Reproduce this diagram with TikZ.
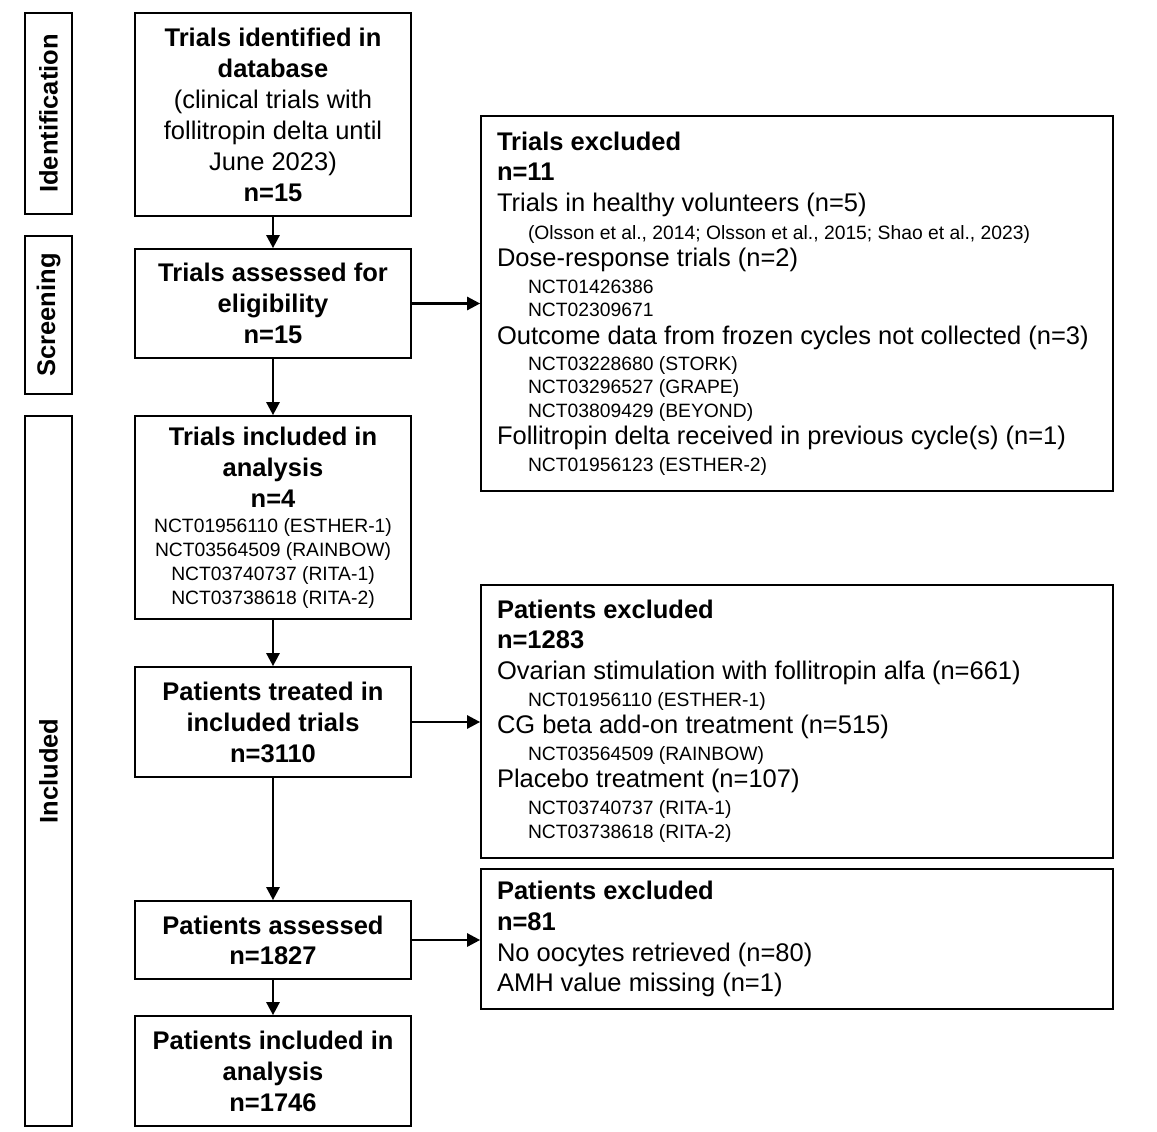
\documentclass[tikz,border=0pt]{standalone}
\usepackage{fontspec}
\setmainfont{Liberation Sans}
\usetikzlibrary{arrows.meta}
\setlength\parindent{0pt}
\newcommand\lnB[2]{{\fontsize{25.5}{#1}\selectfont\bfseries\spaceskip=0pt\xspaceskip=0pt #2\par}}
\newcommand\lnM[2]{{\fontsize{25.5}{#1}\selectfont\spaceskip=0pt\xspaceskip=0pt #2\par}}
\newcommand\lnS[2]{{\fontsize{19.3}{#1}\selectfont\spaceskip=0pt\xspaceskip=0pt #2\par}}
\newcommand\lnI[2]{{\fontsize{19.3}{#1}\selectfont\spaceskip=0pt\xspaceskip=0pt\leftskip=31pt #2\par}}
\tikzset{
  lbox/.style={draw, line width=1.7pt, minimum width=276pt, text width=270pt, align=flush center, inner sep=0pt},
  rbox/.style={draw, line width=1.7pt, minimum width=632pt, text width=600pt, align=flush left, inner sep=0pt},
  sbox/.style={draw, line width=1.7pt, rotate=90, minimum height=47pt, inner sep=0pt, font=\fontsize{25.5}{31}\selectfont\bfseries},
  flow/.style={line width=2.6pt, -{Triangle[length=13pt,width=13pt]}}
}
\begin{document}
\begin{tikzpicture}[x=1pt,y=-1pt]
\useasboundingbox (0,0) rectangle (1157,1132);
% stage labels
\node[sbox, minimum width=201pt] (sid) at (48.5,113.5) {Identification};
\node[sbox, minimum width=158pt] (sscr) at (48.5,315) {Screening};
\node[sbox, minimum width=710pt] (sinc) at (48.5,771) {Included};
% left column
\node[lbox, minimum height=203pt] (b1) at (273,114.5) {%
\lnB{31}{Trials identified in}\lnB{31}{database}\lnM{31}{(clinical trials with}\lnM{31}{follitropin delta until}\lnM{31}{June 2023)}\lnB{31}{n=15}};
\node[lbox, minimum height=109pt] (b2) at (273,303.5) {%
\lnB{31}{Trials assessed for}\lnB{31}{eligibility}\lnB{31}{n=15}};
\node[lbox, minimum height=203pt] (b3) at (273,517.5) {%
\lnB{31}{Trials included in}\lnB{31}{analysis}\lnB{31}{n=4}\lnS{25}{NCT01956110 (ESTHER-1)}\lnS{24}{NCT03564509 (RAINBOW)}\lnS{24}{NCT03740737 (RITA-1)}\lnS{24}{NCT03738618 (RITA-2)}};
\node[lbox, minimum height=110pt] (b4) at (273,722) {%
\lnB{31}{Patients treated in}\lnB{31}{included trials}\lnB{31}{n=3110}};
\node[lbox, minimum height=78pt] (b5) at (273,940) {%
\lnB{30}{Patients assessed}\lnB{30}{n=1827}};
\node[lbox, minimum height=110pt] (b6) at (273,1071) {%
\lnB{31}{Patients included in}\lnB{31}{analysis}\lnB{31}{n=1746}};
% right column
\node[rbox, minimum height=375pt] (e1) at (797,303.5) {%
\lnB{30}{Trials excluded}\lnB{30}{n=11}%
\lnM{31}{Trials in healthy volunteers (n=5)}%
\lnI{28}{(Olsson et al., 2014; Olsson et al., 2015; Shao et al., 2023)}%
\lnM{27}{Dose-response trials (n=2)}%
\lnI{27}{NCT01426386}\lnI{23}{NCT02309671}%
\lnM{28}{Outcome data from frozen cycles not collected (n=3)}%
\lnI{26}{NCT03228680 (STORK)}\lnI{23}{NCT03296527 (GRAPE)}\lnI{24}{NCT03809429 (BEYOND)}%
\lnM{27}{Follitropin delta received in previous cycle(s) (n=1)}%
\lnI{27}{NCT01956123 (ESTHER-2)}};
\node[rbox, minimum height=273pt] (e2) at (797,721.5) {%
\lnB{30}{Patients excluded}\lnB{30}{n=1283}%
\lnM{31}{Ovarian stimulation with follitropin alfa (n=661)}%
\lnI{27}{NCT01956110 (ESTHER-1)}%
\lnM{27}{CG beta add-on treatment (n=515)}%
\lnI{27}{NCT03564509 (RAINBOW)}%
\lnM{27}{Placebo treatment (n=107)}%
\lnI{27}{NCT03740737 (RITA-1)}\lnI{24}{NCT03738618 (RITA-2)}};
\node[rbox, minimum height=140pt] (e3) at (797,939) {%
\lnB{31}{Patients excluded}\lnB{31}{n=81}%
\lnM{31}{No oocytes retrieved (n=80)}%
\lnM{30}{AMH value missing (n=1)}};
% connectors
\draw[flow] (b1) -- (b2);
\draw[flow] (b2) -- (b3);
\draw[flow] (b3) -- (b4);
\draw[flow] (b4) -- (b5);
\draw[flow] (b5) -- (b6);
\draw[flow] (b2.east) -- (b2.east -| e1.west);
\draw[flow] (b4.east) -- (b4.east -| e2.west);
\draw[flow] (b5.east) -- (b5.east -| e3.west);
\end{tikzpicture}
\end{document}
